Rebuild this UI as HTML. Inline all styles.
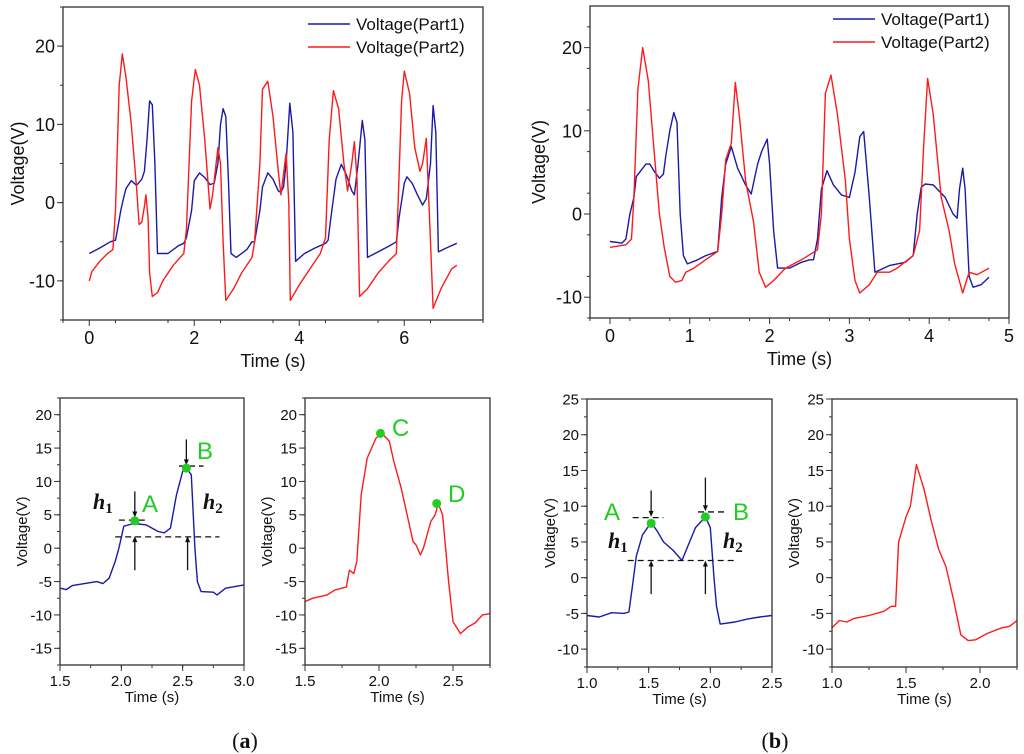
<!DOCTYPE html>
<html><head><meta charset="utf-8"><style>
html,body{margin:0;padding:0;background:#fff;}
svg{display:block;font-family:"Liberation Sans",Arial,sans-serif;}
</style></head><body>
<svg id="fig" width="1024" height="754" viewBox="0 0 1024 754" xmlns="http://www.w3.org/2000/svg">
<rect width="1024" height="754" fill="#fff"/>
</svg>
<script>
// ---- data ----
const tlBlueT=[0,0.2,0.4,0.5,0.55,0.6,0.65,0.7,0.8,0.9,1.0,1.05,1.1,1.15,1.2,1.25,1.3,1.5,1.7,1.8,1.85,1.95,2.0,2.1,2.2,2.3,2.38,2.45,2.5,2.55,2.6,2.65,2.7,2.8,3.0,3.1,3.15,3.25,3.3,3.4,3.5,3.6,3.65,3.7,3.75,3.82,3.88,3.93,4.1,4.3,4.5,4.55,4.6,4.7,4.8,4.9,5.0,5.05,5.12,5.2,5.25,5.3,5.5,5.7,5.85,5.9,6.0,6.05,6.15,6.25,6.35,6.42,6.5,6.55,6.6,6.65,6.8,7.0];
const tlBlueV=[-6.5,-5.8,-5,-4.8,-3,-1,0.5,1.8,2.8,2.2,3,4,8,13,12.5,5,-6.5,-6.5,-5.5,-5.2,-4.5,-1,2.8,3.8,3.2,2.3,2.5,5,10,12,11,3,-6.5,-7,-6,-5,-5,-1,2,3.8,3,1.5,1.3,2,5,12.7,9,-7.5,-6.5,-5.8,-5.2,-4.8,-2,3,4.9,3.5,1.5,1,5,10.5,8,-7,-6.3,-5.6,-5,-2,2.5,3.3,2.5,1,-0.3,0.5,5,12.4,9,-6.3,-5.8,-5.2];
const tlRedT=[0,0.05,0.2,0.35,0.45,0.5,0.57,0.63,0.7,0.8,0.9,0.95,1.0,1.05,1.08,1.12,1.15,1.2,1.3,1.4,1.6,1.8,1.85,1.95,2.02,2.1,2.2,2.3,2.35,2.45,2.5,2.55,2.6,2.75,2.9,3.1,3.15,3.25,3.3,3.4,3.5,3.6,3.65,3.75,3.8,3.83,4.0,4.2,4.4,4.5,4.57,4.65,4.75,4.85,4.92,5.0,5.05,5.1,5.15,5.3,5.5,5.7,5.85,5.95,6.0,6.1,6.2,6.3,6.35,6.42,6.5,6.55,6.7,6.9,7.0];
const tlRedV=[-10,-8.8,-7.5,-6.5,-6,-1,15,19,16,10,2,-2.8,-2.5,-0.5,1,-2,-9,-12,-11.5,-10,-8,-6.5,-3.5,13,17,15,8,-0.8,1,7,5,-5,-12.5,-11,-9,-7,-5,5,14.5,15.5,11,4,1,6.3,0,-12.5,-10.5,-8.5,-6.5,-4.5,8,14.3,12,5,1.5,5,7.8,3,-12,-11,-9,-7.5,-6.5,13,16.8,14,7,4,5,8.2,-5,-13.5,-11,-8.5,-8];
const trBlueT=[0,0.15,0.2,0.25,0.3,0.33,0.45,0.5,0.55,0.62,0.67,0.7,0.75,0.8,0.84,0.88,0.92,0.97,1.1,1.2,1.35,1.4,1.45,1.52,1.6,1.7,1.77,1.85,1.9,1.97,2.0,2.05,2.1,2.25,2.4,2.5,2.55,2.6,2.65,2.72,2.8,2.9,3.0,3.07,3.13,3.18,3.25,3.32,3.5,3.7,3.8,3.85,3.9,3.95,4.05,4.2,4.3,4.35,4.38,4.42,4.45,4.5,4.55,4.65,4.75];
const trBlueV=[-3.3,-3.5,-3,0,2,4.5,6,6,5.2,4.3,4.8,7,10,12.2,11,0,-5,-6,-5.5,-5,-4.5,2,6,8.1,5.5,3.5,2.4,6,7.5,9,6,-2,-6.5,-6.5,-5.8,-5.5,-5.5,-3,3,5.2,3.5,2.3,2,5,9.3,9.9,2,-7,-6.2,-5.8,-5,0,3.2,3.6,3.5,2,0,-0.5,3,5.5,3,-7.5,-8.8,-8.5,-7.6];
const trRedT=[0,0.2,0.27,0.3,0.35,0.41,0.48,0.55,0.62,0.68,0.75,0.82,0.9,0.95,1.05,1.2,1.35,1.4,1.45,1.52,1.57,1.62,1.7,1.8,1.87,1.95,2.05,2.2,2.4,2.6,2.65,2.7,2.77,2.85,2.95,3.0,3.07,3.13,3.25,3.35,3.5,3.6,3.8,3.88,3.93,3.98,4.05,4.15,4.25,4.32,4.42,4.5,4.6,4.75];
const trRedV=[-4,-3.7,-3,2,15,20,16,8,0,-4,-7.5,-8.2,-8,-7,-6.5,-5.5,-4.5,0,6.5,8.5,15.8,12,4,-1,-7,-8.8,-8,-6.5,-5.5,-4.3,0,14.5,16.7,12,4,-3,-8,-9.5,-8.5,-7,-7,-6.5,-5,-2,8,16.3,12,2,-2,-6,-9.5,-7,-7.3,-6.5];
const a1T=[1.5,1.55,1.6,1.7,1.8,1.85,1.9,1.95,1.98,2.02,2.1,2.2,2.3,2.35,2.4,2.45,2.5,2.53,2.57,2.6,2.62,2.65,2.75,2.78,2.85,3.0];
const a1V=[-6,-6.2,-5.6,-5.3,-5,-5.3,-4.5,-2,0,3.3,3.7,3.5,2.5,2.3,3,8,11.5,12,11,0,-5,-6.5,-6.6,-7,-6,-5.5];
const a2T=[1.5,1.55,1.65,1.7,1.78,1.8,1.83,1.85,1.88,1.92,1.98,2.02,2.07,2.1,2.15,2.2,2.23,2.25,2.28,2.3,2.35,2.38,2.4,2.43,2.47,2.5,2.55,2.6,2.65,2.7,2.75];
const a2V=[-8,-7.5,-7,-6.3,-5.8,-3.3,-3.8,-2,8,13.5,16.5,17.2,16,13,9,4,1,0.5,-1,0,4,5,6.7,5,-5,-11,-12.8,-11.8,-11.2,-10,-9.8];
const b1T=[1.0,1.1,1.2,1.3,1.34,1.37,1.4,1.45,1.52,1.57,1.62,1.7,1.77,1.82,1.88,1.96,2.0,2.03,2.05,2.08,2.2,2.3,2.4,2.5];
const b1V=[-5.3,-5.5,-4.9,-5,-4.8,-1,3,6,7.7,6.5,5,3.8,2.4,4.5,7,8.5,7,0,-4,-6.5,-6.2,-5.8,-5.5,-5.3];
const b2T=[1.0,1.05,1.1,1.15,1.25,1.35,1.4,1.43,1.45,1.5,1.53,1.57,1.62,1.67,1.72,1.77,1.82,1.87,1.92,1.97,2.05,2.15,2.2,2.25];
const b2V=[-7,-6,-6.2,-5.7,-5.3,-4.7,-4,-4,5,8.5,10,15.8,12.5,8,4,1.5,-3,-8,-8.8,-8.7,-7.8,-7,-6.8,-6];
const xTicksTL=[0,2,4,6], xTicksTR=[0,1,2,3,4,5], yTicksTop=[-10,0,10,20];
const xTicksA1=[1.5,2.0,2.5,3.0], xTicksA2=[1.5,2.0,2.5], xTicksB1=[1.0,1.5,2.0,2.5], xTicksB2=[1.0,1.5,2.0];
const yTicksA=[-15,-10,-5,0,5,10,15,20], yTicksB=[-10,-5,0,5,10,15,20,25];

const NS="http://www.w3.org/2000/svg";
const svg=document.getElementById('fig');
function mk(tag,attrs,parent){const e=document.createElementNS(NS,tag);for(const k in attrs)e.setAttribute(k,attrs[k]);(parent||svg).appendChild(e);return e;}

function panel(o){
  const g=mk('g',{});
  
  
  const sx=v=>o.L+(v-o.x0)/(o.x1-o.x0)*(o.R-o.L);
  const sy=v=>o.B-(v-o.y0)/(o.y1-o.y0)*(o.B-o.T);
  o.series.forEach(s=>{
    const d=s.t.map((t,i)=>(i?'L':'M')+sx(t).toFixed(1)+','+sy(s.v[i]).toFixed(1)).join('');
    const p=mk('path',{d:d,fill:'none',stroke:s.c,'stroke-width':1.4,'stroke-linejoin':'round'},g);
    
    
  });
  const fr=mk('rect',{x:o.L,y:o.T,width:o.R-o.L,height:o.B-o.T,fill:'none',stroke:'#333','stroke-width':1.3},g);
  
  
  for(let v=o.x0;v<=o.x1+1e-9;v+=o.xm){const x=sx(v);mk('line',{x1:x,x2:x,y1:o.B,y2:o.B+3,stroke:'#333'},g);}
  for(let v=o.y0;v<=o.y1+1e-9;v+=o.ym){const y=sy(v);mk('line',{x1:o.L,x2:o.L-3,y1:y,y2:y,stroke:'#333'},g);}
  o.xt.forEach(v=>{const x=sx(v);mk('line',{x1:x,x2:x,y1:o.B,y2:o.B+6,stroke:'#333'},g);
    const t=mk('text',{x:x,y:o.B+6+o.fs,'text-anchor':'middle','font-size':o.fs,fill:'#111'},g);t.textContent=o.fmt?v.toFixed(1):v;
    });
  o.yt.forEach(v=>{const y=sy(v);mk('line',{x1:o.L,x2:o.L-6,y1:y,y2:y,stroke:'#333'},g);
    const t=mk('text',{x:o.L-8,y:y+o.fs*0.36,'text-anchor':'end','font-size':o.fs,fill:'#111'},g);t.textContent=v;
    });
  const xt=mk('text',{x:(o.L+o.R)/2,y:o.B+o.xtOff,'text-anchor':'middle','font-size':o.ts,fill:'#111'},g);xt.textContent='Time (s)';
  
  const yx=o.ytx, yy=(o.T+o.B)/2;
  const yt=mk('text',{x:yx,y:yy,'text-anchor':'middle','font-size':o.ts,fill:'#111',transform:`rotate(-90 ${yx} ${yy})`},g);yt.textContent='Voltage(V)';
  
  o.sx=sx;o.sy=sy;return o;
}
const B='#1a1aa6', Rd='#ff1a1a';
const tl=panel({name:'top-left-chart',L:63,R:483,T:7,B:320,x0:-0.5,x1:7.5,y0:-15,y1:25,xm:1,ym:5,xt:xTicksTL,yt:yTicksTop,fs:18,ts:18,xtOff:47,ytx:24,
  series:[{t:tlBlueT,v:tlBlueV,c:B,n:'series-part1'},{t:tlRedT,v:tlRedV,c:Rd,n:'series-part2'}]});
const tr=panel({name:'top-right-chart',L:590,R:1009,T:6,B:318,x0:-0.25,x1:5,y0:-12.5,y1:25,xm:0.5,ym:5,xt:xTicksTR,yt:yTicksTop,fs:18,ts:18,xtOff:47,ytx:545,
  series:[{t:trBlueT,v:trBlueV,c:B,n:'series-part1'},{t:trRedT,v:trRedV,c:Rd,n:'series-part2'}]});
const a1=panel({name:'panel-a-part1',L:60,R:244,T:398,B:665,x0:1.5,x1:3.0,y0:-17.5,y1:22.5,xm:0.25,ym:2.5,xt:xTicksA1,yt:yTicksA,fs:15,ts:15,xtOff:37,ytx:27,fmt:1,
  series:[{t:a1T,v:a1V,c:B,n:'series-part1'}]});
const a2=panel({name:'panel-a-part2',L:305,R:490,T:398,B:665,x0:1.5,x1:2.75,y0:-17.5,y1:22.5,xm:0.25,ym:2.5,xt:xTicksA2,yt:yTicksA,fs:15,ts:15,xtOff:37,ytx:272,fmt:1,
  series:[{t:a2T,v:a2V,c:Rd,n:'series-part2'}]});
const b1=panel({name:'panel-b-part1',L:587,R:772,T:399,B:667,x0:1.0,x1:2.5,y0:-12.5,y1:25,xm:0.25,ym:2.5,xt:xTicksB1,yt:yTicksB,fs:15,ts:15,xtOff:37,ytx:555,fmt:1,
  series:[{t:b1T,v:b1V,c:B,n:'series-part1'}]});
const b2=panel({name:'panel-b-part2',L:832,R:1017,T:399,B:667,x0:1.0,x1:2.25,y0:-12.5,y1:25,xm:0.25,ym:2.5,xt:xTicksB2,yt:yTicksB,fs:15,ts:15,xtOff:37,ytx:799,fmt:1,
  series:[{t:b2T,v:b2V,c:Rd,n:'series-part2'}]});

function legend(x,y1,y2){
  [[y1,B,'Voltage(Part1)'],[y2,Rd,'Voltage(Part2)']].forEach(([y,c,l])=>{
    const g=mk('g',{});
    
    
    mk('line',{x1:x,x2:x+42,y1:y,y2:y,stroke:c,'stroke-width':1.5},g);
    const t=mk('text',{x:x+48,y:y+6,'font-size':17,fill:'#111'},g);t.textContent=l;
  });
}
legend(308,24,47); legend(833,19,42);

function dash(p,xa,xb,v){const y=p.sy(v);const l=mk('line',{x1:p.sx(xa),x2:p.sx(xb),y1:y,y2:y,stroke:'#111','stroke-width':1.3,'stroke-dasharray':'6,4'});
  }
function arrow(p,t,vFrom,vTo){const x=p.sx(t),y1=p.sy(vFrom),y2=p.sy(vTo);const dir=y2>y1?1:-1;
  const g=mk('g',{});
  mk('line',{x1:x,x2:x,y1:y1,y2:y2-dir*3,stroke:'#111','stroke-width':1.3},g);
  mk('path',{d:`M${x-2.5},${y2-dir*6}L${x+2.5},${y2-dir*6}L${x},${y2}Z`,fill:'#111'},g);}
function dot(p,t,v){const c=mk('circle',{cx:p.sx(t),cy:p.sy(v),r:4.5,fill:'#22cc22'});}
function lab(x,y,s,size,col,name,style){const t=mk('text',{x:x,y:y,'font-size':size,fill:col,'font-style':style||'normal','font-weight':style?'bold':'normal','font-family':style?'"Liberation Serif",serif':'"Liberation Sans",sans-serif'});t.textContent=s;return t;}
function hlab(x,y,n,name){const t=lab(x,y,'h',22,'#111',name,'italic');const s=mk('tspan',{'font-size':15,dy:4,'font-style':'normal'},t);s.textContent=n;}

dash(a1,1.98,2.22,4.2);dash(a1,2.47,2.67,12.3);dash(a1,1.95,2.8,1.7);
arrow(a1,2.11,8.5,4.6);arrow(a1,2.11,-3.3,1.8);arrow(a1,2.53,16.3,12.4);arrow(a1,2.54,-3.3,1.8);
dot(a1,2.11,4.1);dot(a1,2.53,12);
lab(142,512,'A',24,'#22cc22','label-a');lab(197,459,'B',24,'#22cc22','label-b');
hlab(93,509,'1','h1-label');hlab(203,509,'2','h2-label');
dot(a2,2.01,17.2);dot(a2,2.39,6.7);
lab(392,436,'C',24,'#22cc22','label-c');lab(448,502,'D',24,'#22cc22','label-d');

dash(b1,1.37,1.62,8.4);dash(b1,1.9,2.12,9.2);dash(b1,1.33,2.2,2.4);
arrow(b1,1.52,12.2,8.5);arrow(b1,1.52,-2.3,2.4);arrow(b1,1.96,14,9.3);arrow(b1,1.96,-2.3,2.4);
dot(b1,1.52,7.6);dot(b1,1.96,8.5);
lab(604,520,'A',24,'#22cc22','label-a');lab(733,520,'B',24,'#22cc22','label-b');
hlab(608,548,'1','h1-label');hlab(723,548,'2','h2-label');

const pa=mk('text',{x:245,y:748,'text-anchor':'middle','font-size':22,'font-family':'"Liberation Serif",serif',fill:'#111'});pa.innerHTML='(<tspan font-weight="bold">a</tspan>)';

const pb=mk('text',{x:775,y:748,'text-anchor':'middle','font-size':22,'font-family':'"Liberation Serif",serif',fill:'#111'});pb.innerHTML='(<tspan font-weight="bold">b</tspan>)';

</script>
</body></html>
